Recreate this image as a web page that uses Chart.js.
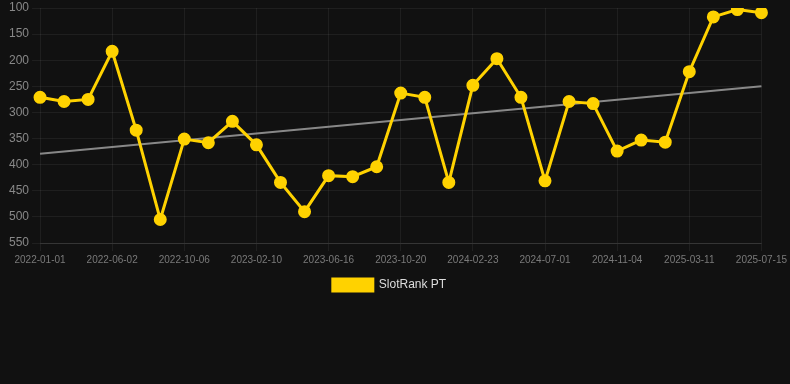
<!DOCTYPE html>
<html>
<head>
<meta charset="utf-8">
<script src="https://cdn.jsdelivr.net/npm/chart.js@4/dist/chart.umd.min.js"></script>
<style>
    html, body { margin: 0; padding: 0; background: #111111; }
    #wrap { position: relative; width: 790px; height: 301px; }
</style>
</head>
<body>
<div id="wrap"><canvas id="rankChart"></canvas></div>
<script>
    // Dates (categories)
    const dates = [
        '2022-01-01', '2022-02-20', '2022-04-11', '2022-06-02', '2022-07-14', '2022-08-25',
        '2022-10-06', '2022-11-17', '2022-12-29', '2023-02-10', '2023-03-24', '2023-05-05',
        '2023-06-16', '2023-07-28', '2023-09-08', '2023-10-20', '2023-12-01', '2024-01-12',
        '2024-02-23', '2024-04-05', '2024-05-18', '2024-07-01', '2024-08-12', '2024-09-23',
        '2024-11-04', '2024-12-16', '2025-01-27', '2025-03-11', '2025-04-22', '2025-06-03',
        '2025-07-15'
    ];

    // SlotRank PT values (lower is better, axis reversed)
    const rankValues = [
        271, 279, 275, 183, 334, 505, 351, 358, 317, 362, 434,
        490, 421, 423, 404, 263, 271, 434, 248, 197, 271, 431,
        279, 283, 374, 353, 357, 222, 117, 103, 109
    ];

    // Trend line end points
    const trendStart = 379;
    const trendEnd = 250;

    // Y axis range
    const yMin = 100;
    const yMax = 550;
    const yStep = 50;

    const trendValues = dates.map((d, i) =>
        i === 0 ? trendStart : (i === dates.length - 1 ? trendEnd : null));

    const ctx = document.getElementById('rankChart').getContext('2d');
    new Chart(ctx, {
        type: 'line',
        data: {
            labels: dates,
            datasets: [
                {
                    label: 'SlotRank PT',
                    data: rankValues,
                    borderColor: '#FFD200',
                    backgroundColor: '#FFD200',
                    borderWidth: 3,
                    pointRadius: 5,
                    pointHoverRadius: 5,
                    tension: 0
                },
                {
                    label: 'Trend',
                    data: trendValues,
                    borderColor: 'rgba(150, 150, 150, 0.9)',
                    backgroundColor: 'rgba(150, 150, 150, 0.9)',
                    borderWidth: 2,
                    pointRadius: 0,
                    spanGaps: true,
                    tension: 0
                }
            ]
        },
        options: {
            responsive: true,
            maintainAspectRatio: false,
            animation: false,
            layout: { padding: { left: 6, right: 17, top: 0, bottom: 0 } },
            plugins: {
                legend: {
                    display: true,
                    position: 'bottom',
                    labels: {
                        color: '#dddddd',
                        font: { size: 12 },
                        boxWidth: 40,
                        boxHeight: 12,
                        filter: (item) => item.text === 'SlotRank PT'
                    }
                },
                tooltip: { enabled: false }
            },
            scales: {
                x: {
                    grid: { color: 'rgba(255, 255, 255, 0.06)' },
                    border: { color: 'rgba(255, 255, 255, 0.1)' },
                    ticks: {
                        color: '#7a7a7a',
                        font: { size: 10 },
                        maxRotation: 0,
                        autoSkip: true,
                        maxTicksLimit: 11
                    }
                },
                y: {
                    reverse: true,
                    min: yMin,
                    max: yMax,
                    grid: { color: 'rgba(255, 255, 255, 0.06)' },
                    border: { display: false },
                    ticks: {
                        color: '#888888',
                        font: { size: 12, lineHeight: 0.8 },
                        stepSize: yStep
                    }
                }
            }
        }
    });
</script>
</body>
</html>
